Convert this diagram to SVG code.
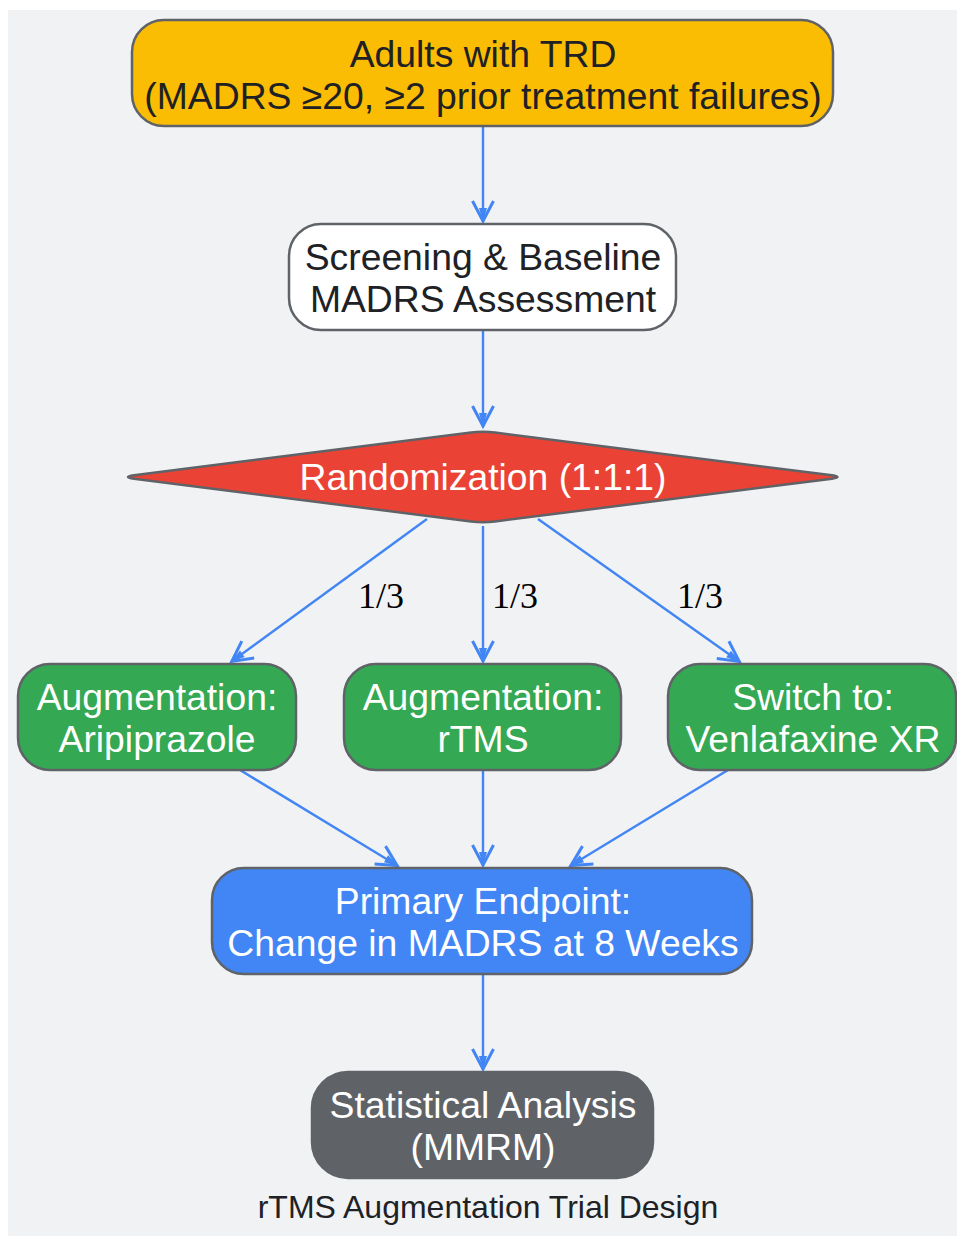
<svg xmlns="http://www.w3.org/2000/svg" width="957" height="1236" viewBox="0 0 957 1236">
<style>
.n{stroke:#5f6368;stroke-width:2.5}
.t{font-family:"Liberation Sans",Arial,sans-serif;font-size:37.3px;text-anchor:middle}
.dk{fill:#202124}
.wh{fill:#ffffff}
.e{fill:none;stroke:#4285f4;stroke-width:2.4}
.lbl{font-family:"Liberation Serif","Times New Roman",serif;font-size:36px;text-anchor:middle;fill:#000000}
.title{font-family:"Liberation Sans",Arial,sans-serif;font-size:32px;text-anchor:middle;fill:#202124}
</style>
<defs>
<marker id="ah" viewBox="-24 -13 27 26" refX="0" refY="0" markerWidth="27" markerHeight="26" markerUnits="userSpaceOnUse" orient="auto">
<path d="M-21,-10.5 L-1,0 L-21,10.5" fill="none" stroke="#4285f4" stroke-width="3"/>
<path d="M0,0 L-14,-4 L-14,4 Z" fill="#4285f4"/>
</marker>
</defs>
<rect x="8" y="10" width="949" height="1226" fill="#f1f2f4"/>
<g id="connectors">
<line class="e" x1="483" y1="126" x2="483" y2="222" marker-end="url(#ah)"/>
<line class="e" x1="483" y1="330" x2="483" y2="427" marker-end="url(#ah)"/>
<line class="e" x1="427" y1="519" x2="231" y2="662" marker-end="url(#ah)"/>
<line class="e" x1="483" y1="526" x2="483" y2="662" marker-end="url(#ah)"/>
<line class="e" x1="538" y1="519" x2="740" y2="662" marker-end="url(#ah)"/>
<line class="e" x1="240" y1="770" x2="398" y2="866" marker-end="url(#ah)"/>
<line class="e" x1="483" y1="770" x2="483" y2="866" marker-end="url(#ah)"/>
<line class="e" x1="728" y1="770" x2="570" y2="866" marker-end="url(#ah)"/>
<line class="e" x1="483" y1="974" x2="483" y2="1070" marker-end="url(#ah)"/>
<text class="lbl" x="381" y="608">1/3</text>
<text class="lbl" x="515" y="608">1/3</text>
<text class="lbl" x="700" y="608">1/3</text>
</g>
<g id="n-population">
<rect class="n" x="132" y="20" width="701" height="106" rx="32" fill="#fbbc04"/>
<text class="t dk" x="483" y="67">Adults with TRD</text>
<text class="t dk" x="483" y="109">(MADRS ≥20, ≥2 prior treatment failures)</text>
</g>
<g id="n-screening">
<rect class="n" x="289" y="224" width="387" height="106" rx="32" fill="#ffffff"/>
<text class="t dk" x="483" y="270">Screening &amp; Baseline</text>
<text class="t dk" x="483" y="312">MADRS Assessment</text>
</g>
<g id="n-randomization">
<path class="n" fill="#ea4335" d="M134,475.3 L471.1,432.5 Q483,431 494.9,432.5 L832,475.3 Q843,477 832,478.7 L494.9,521.5 Q483,523 471.1,521.5 L134,478.7 Q122,477 134,475.3 Z"/>
<text class="t wh" x="483" y="490">Randomization (1:1:1)</text>
</g>
<g id="n-aripiprazole">
<rect class="n" x="18" y="664" width="278" height="106" rx="32" fill="#34a853"/>
<text class="t wh" x="157" y="710">Augmentation:</text>
<text class="t wh" x="157" y="752">Aripiprazole</text>
</g>
<g id="n-rtms">
<rect class="n" x="344" y="664" width="277" height="106" rx="32" fill="#34a853"/>
<text class="t wh" x="483" y="710">Augmentation:</text>
<text class="t wh" x="483" y="752">rTMS</text>
</g>
<g id="n-venlafaxine">
<rect class="n" x="668" y="664" width="288" height="106" rx="32" fill="#34a853"/>
<text class="t wh" x="813" y="710">Switch to:</text>
<text class="t wh" x="813" y="752">Venlafaxine XR</text>
</g>
<g id="n-endpoint">
<rect class="n" x="212" y="868" width="540" height="106" rx="32" fill="#4285f4"/>
<text class="t wh" x="483" y="914">Primary Endpoint:</text>
<text class="t wh" x="483" y="956">Change in MADRS at 8 Weeks</text>
</g>
<g id="n-analysis">
<rect class="n" x="312" y="1072" width="341" height="106" rx="36" fill="#5f6368"/>
<text class="t wh" x="483" y="1118">Statistical Analysis</text>
<text class="t wh" x="483" y="1160">(MMRM)</text>
</g>
<text class="title" x="488" y="1218">rTMS Augmentation Trial Design</text>
</svg>
